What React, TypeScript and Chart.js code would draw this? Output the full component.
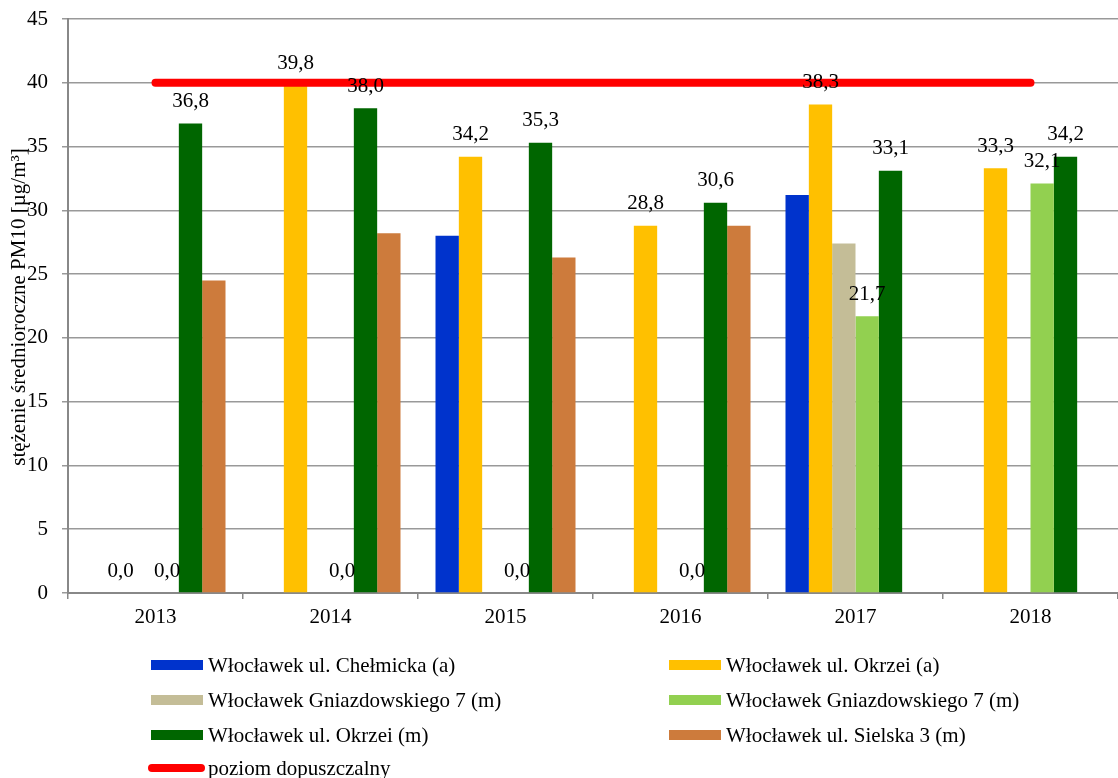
import React, { useEffect, useRef } from "react";
import { Chart, registerables } from "chart.js";

Chart.register(...registerables);

const categories = ["2013", "2014", "2015", "2016", "2017", "2018"];

const chelmickaA: (number | null)[] = [null, null, 28.0, null, 31.2, null];
const okrzeiA: (number | null)[] = [0.0, 39.8, 34.2, 28.8, 38.3, 33.3];
const gniazdBeige: (number | null)[] = [null, null, null, null, 27.4, null];
const gniazdGreen: (number | null)[] = [0.0, 0.0, 0.0, 0.0, 21.7, 32.1];
const okrzeiM: (number | null)[] = [36.8, 38.0, 35.3, 30.6, 33.1, 34.2];
const sielska: (number | null)[] = [24.5, 28.2, 26.3, 28.8, null, null];
const limitLine: number[] = [40, 40, 40, 40, 40, 40];

const seriesNames = [
  "Włocławek ul. Chełmicka (a)",
  "Włocławek ul. Okrzei (a)",
  "Włocławek Gniazdowskiego 7 (m)",
  "Włocławek Gniazdowskiego 7 (m)",
  "Włocławek ul. Okrzei (m)",
  "Włocławek ul. Sielska 3 (m)",
  "poziom dopuszczalny",
];
const seriesColors = ["#0033CC", "#FFC000", "#C4BD97", "#92D050", "#006600", "#CD7B3C", "#FF0000"];
const labelledSeries = [false, true, false, true, true, false];

const yTicks = [0, 5, 10, 15, 20, 25, 30, 35, 40, 45];
const yTitle = "stężenie średnioroczne PM10 [µg/m³]";

const FONT = "'Liberation Serif', 'Times New Roman', serif";

const labelPlugin = {
  id: "valueLabels",
  afterDatasetsDraw(chart: any) {
    const ctx = chart.ctx;
    ctx.save();
    ctx.font = `21px ${FONT}`;
    ctx.fillStyle = "#000";
    ctx.textAlign = "center";
    ctx.textBaseline = "middle";
    chart.data.datasets.forEach((ds: any, di: number) => {
      if (!ds.showValues) return;
      const meta = chart.getDatasetMeta(di);
      meta.data.forEach((el: any, i: number) => {
        const v = ds.data[i];
        if (v === null || v === undefined) return;
        ctx.fillText(v.toFixed(1).replace(".", ","), el.x, el.y - 22);
      });
    });
    ctx.restore();
  },
};

const legendPlugin = {
  id: "customLegend",
  afterDraw(chart: any) {
    const ctx = chart.ctx;
    ctx.save();
    ctx.font = `21px ${FONT}`;
    ctx.fillStyle = "#000";
    ctx.textBaseline = "middle";
    ctx.textAlign = "left";
    const cols = [151, 669];
    const rows = [665, 700, 735];
    for (let i = 0; i < 6; i++) {
      const cx = cols[i % 2];
      const cy = rows[Math.floor(i / 2)];
      ctx.fillStyle = seriesColors[i];
      ctx.fillRect(cx, cy - 5, 52, 10);
      ctx.fillStyle = "#000";
      ctx.fillText(seriesNames[i], cx + 57, cy + 1);
    }
    ctx.strokeStyle = seriesColors[6];
    ctx.lineWidth = 8;
    ctx.lineCap = "round";
    ctx.beginPath();
    ctx.moveTo(152, 768);
    ctx.lineTo(201, 768);
    ctx.stroke();
    ctx.fillStyle = "#000";
    ctx.fillText(seriesNames[6], 208, 769);

    ctx.translate(19, 307);
    ctx.rotate(-Math.PI / 2);
    ctx.textAlign = "center";
    ctx.font = `21px ${FONT}`;
    ctx.fillText(yTitle, 0, 0);
    ctx.restore();
  },
};

export default function App() {
  const ref = useRef<HTMLCanvasElement | null>(null);

  useEffect(() => {
    if (!ref.current) return;
    const barData = [chelmickaA, okrzeiA, gniazdBeige, gniazdGreen, okrzeiM, sielska];
    const datasets: any[] = barData.map((d, i) => ({
      type: "bar",
      label: seriesNames[i],
      data: d,
      backgroundColor: seriesColors[i],
      borderWidth: 0,
      categoryPercentage: 0.8,
      barPercentage: 1.0,
      showValues: labelledSeries[i],
      order: 1,
    }));
    datasets.push({
      type: "line",
      label: seriesNames[6],
      data: limitLine,
      borderColor: seriesColors[6],
      backgroundColor: seriesColors[6],
      borderWidth: 8,
      borderCapStyle: "round",
      pointRadius: 0,
      fill: false,
      order: 0,
      showValues: false,
    });

    const chart = new Chart(ref.current, {
      type: "bar",
      data: { labels: categories, datasets },
      options: {
        animation: false,
        responsive: false,
        layout: { padding: { top: 19, right: 0, bottom: 145, left: 0 } },
        plugins: { legend: { display: false }, tooltip: { enabled: false } },
        scales: {
          x: {
            grid: {
              offset: true,
              drawOnChartArea: false,
              drawTicks: true,
              tickLength: 6,
              color: "#888",
              lineWidth: 1.5,
            },
            border: { color: "#888", width: 2 },
            ticks: { color: "#000", font: { family: FONT, size: 21 }, padding: 6 },
            afterFit: (s: any) => {
              s.height = 40;
              s.paddingLeft = 0;
              s.paddingRight = 0;
            },
          },
          y: {
            min: 0,
            max: 45,
            afterBuildTicks: (s: any) => {
              s.ticks = yTicks.map((v) => ({ value: v }));
            },
            grid: { color: "#999", lineWidth: 1.5, tickLength: 6 },
            border: { color: "#888", width: 2 },
            ticks: { color: "#000", font: { family: FONT, size: 21 }, padding: 14 },
            afterFit: (s: any) => {
              s.width = 68;
              s.paddingTop = 0;
              s.paddingBottom = 0;
            },
          },
        },
      } as any,
      plugins: [labelPlugin, legendPlugin],
    });
    return () => chart.destroy();
  }, []);

  return (
    <div style={{ position: "fixed", left: 0, top: 0, width: 1118, height: 778, background: "#fff" }}>
      <canvas ref={ref} width={1118} height={778} style={{ width: 1118, height: 778 }} />
    </div>
  );
}
